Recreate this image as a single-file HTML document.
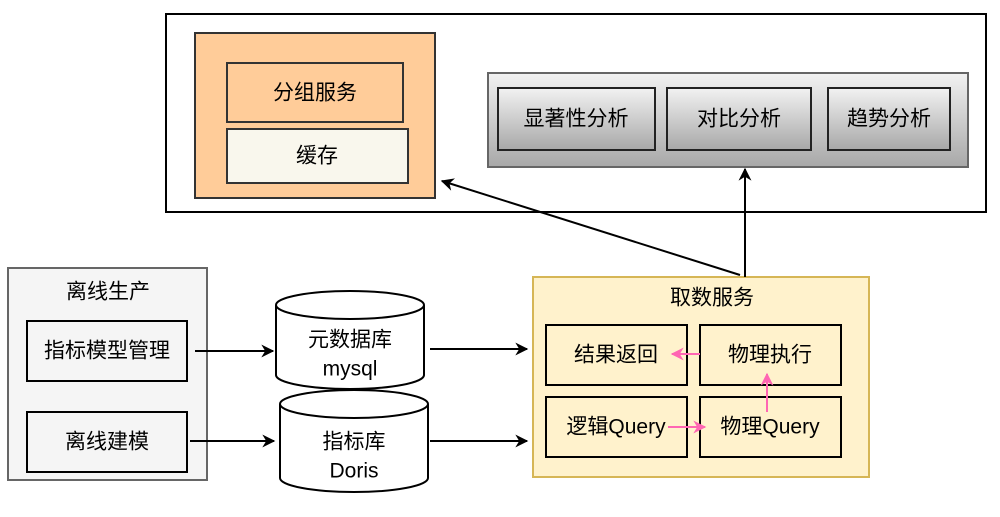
<!DOCTYPE html>
<html><head><meta charset="utf-8"><style>
body{margin:0;background:#fff;}
svg text{font-family:"Liberation Sans","Noto Sans CJK SC",sans-serif;font-size:21px;fill:#000;text-anchor:middle;dominant-baseline:central;}
</style></head><body>
<svg width="1000" height="512" viewBox="0 0 1000 512" xmlns="http://www.w3.org/2000/svg">
<defs>
<linearGradient id="g" x1="0" y1="0" x2="0" y2="1"><stop offset="0" stop-color="#f2f2f2"/><stop offset="1" stop-color="#a8a8a8"/></linearGradient>
<marker id="a" viewBox="0 0 10 10" refX="9" refY="5" markerWidth="13" markerHeight="13" orient="auto" markerUnits="userSpaceOnUse"><path d="M0,0 L10,5 L0,10 L3,5 z" fill="#000"/></marker>
<marker id="p" viewBox="0 0 10 10" refX="9" refY="5" markerWidth="13" markerHeight="13" orient="auto" markerUnits="userSpaceOnUse"><path d="M0,0 L10,5 L0,10 L3,5 z" fill="#ff66b3"/></marker>
</defs>
<rect x="166" y="14" width="820" height="198" fill="#fff" stroke="#000" stroke-width="2"/>
<rect x="195" y="33" width="240" height="165" fill="#ffcc99" stroke="#333" stroke-width="2"/>
<rect x="227" y="63" width="176" height="59" fill="#ffcc99" stroke="#333" stroke-width="2"/>
<text x="315" y="93">分组服务</text>
<rect x="227" y="129" width="181" height="54" fill="#f9f7ed" stroke="#333" stroke-width="2"/>
<text x="317" y="156">缓存</text>
<rect x="488" y="73" width="480" height="94" fill="url(#g)" stroke="#666" stroke-width="2"/>
<rect x="498" y="88" width="157" height="62" fill="url(#g)" stroke="#222" stroke-width="2"/>
<text x="576" y="119">显著性分析</text>
<rect x="667" y="88" width="144" height="62" fill="url(#g)" stroke="#222" stroke-width="2"/>
<text x="739" y="119">对比分析</text>
<rect x="828" y="88" width="122" height="62" fill="url(#g)" stroke="#222" stroke-width="2"/>
<text x="889" y="119">趋势分析</text>

<rect x="8" y="268" width="199" height="212" fill="#f5f5f5" stroke="#666" stroke-width="2"/>
<text x="108" y="292">离线生产</text>
<rect x="27" y="321" width="160" height="60" fill="#f5f5f5" stroke="#000" stroke-width="2"/>
<text x="107" y="351">指标模型管理</text>
<rect x="27" y="412" width="160" height="60" fill="#f5f5f5" stroke="#000" stroke-width="2"/>
<text x="107" y="442">离线建模</text>

<path d="M276,305 L276,375 A74,14 0 0 0 424,375 L424,305 A74,14 0 0 0 276,305 A74,14 0 0 0 424,305" fill="#fff" stroke="#000" stroke-width="2"/>
<text x="350" y="340">元数据库</text><text x="350" y="369">mysql</text>
<path d="M280,404 L280,478 A74,14 0 0 0 428,478 L428,404 A74,14 0 0 0 280,404 A74,14 0 0 0 428,404" fill="#fff" stroke="#000" stroke-width="2"/>
<text x="354" y="442">指标库</text><text x="354" y="471">Doris</text>

<rect x="533" y="277" width="336" height="200" fill="#fff2cc" stroke="#d6b656" stroke-width="2"/>
<text x="712" y="298">取数服务</text>
<rect x="546" y="325" width="141" height="60" fill="#fff2cc" stroke="#000" stroke-width="2"/>
<text x="616" y="355">结果返回</text>
<rect x="700" y="325" width="141" height="60" fill="#fff2cc" stroke="#000" stroke-width="2"/>
<text x="770" y="355">物理执行</text>
<rect x="546" y="397" width="141" height="60" fill="#fff2cc" stroke="#000" stroke-width="2"/>
<text x="616" y="427">逻辑Query</text>
<rect x="700" y="397" width="141" height="60" fill="#fff2cc" stroke="#000" stroke-width="2"/>
<text x="770" y="427">物理Query</text>
<line x1="700" y1="354" x2="672" y2="354" stroke="#ff66b3" stroke-width="2" marker-end="url(#p)"/>
<line x1="767" y1="412" x2="767" y2="374" stroke="#ff66b3" stroke-width="2" marker-end="url(#p)"/>
<line x1="668" y1="427" x2="705" y2="427" stroke="#ff66b3" stroke-width="2" marker-end="url(#p)"/>

<g stroke="#000" stroke-width="2" fill="none">
<line x1="195" y1="351" x2="273" y2="351" marker-end="url(#a)"/>
<line x1="190" y1="441" x2="274" y2="441" marker-end="url(#a)"/>
<line x1="430" y1="349" x2="527" y2="349" marker-end="url(#a)"/>
<line x1="430" y1="441" x2="527" y2="441" marker-end="url(#a)"/>
<line x1="745" y1="277" x2="745" y2="169" marker-end="url(#a)"/>
<line x1="740" y1="275" x2="442" y2="181" marker-end="url(#a)"/>
</g>
</svg>
</body></html>
